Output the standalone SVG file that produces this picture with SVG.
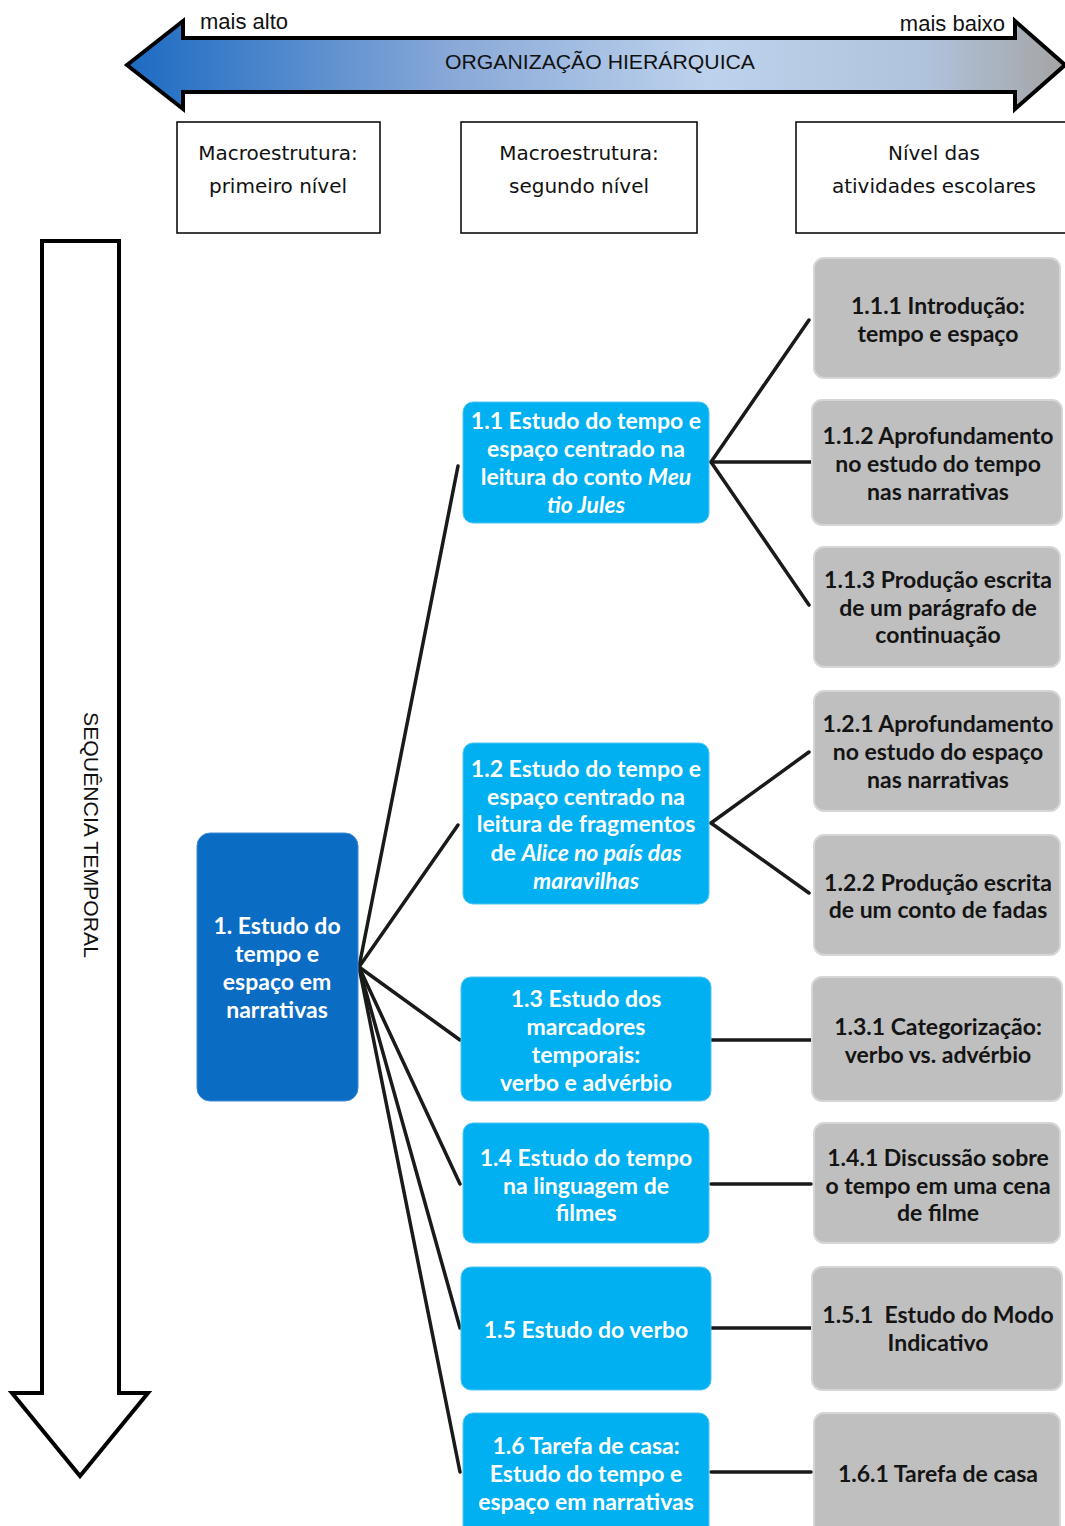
<svg xmlns="http://www.w3.org/2000/svg" width="1065" height="1526" viewBox="0 0 1065 1526">
  <defs>
    <linearGradient id="hierGrad" x1="127" y1="0" x2="1065" y2="0" gradientUnits="userSpaceOnUse">
      <stop offset="0" stop-color="#1c6bc2"/>
      <stop offset="0.35" stop-color="#8aa9d8"/>
      <stop offset="0.62" stop-color="#bdd2ec"/>
      <stop offset="0.85" stop-color="#b0c3dd"/>
      <stop offset="1" stop-color="#a4a4a4"/>
    </linearGradient>
    <style>
      .big-arrow { stroke: #000; stroke-width: 4; stroke-linejoin: miter; }
      .axis-label { font-family: "Liberation Sans", Arial, sans-serif; font-size: 20px; fill: #111; }
      .arrow-note { font-family: "Liberation Sans", Arial, sans-serif; font-size: 22px; fill: #111; }
      .hdr-box { fill: #fff; stroke: #000; stroke-width: 1.5; }
      .hdr-text { font-family: "DejaVu Sans", sans-serif; font-size: 20px; fill: #111; text-anchor: middle; }
      .root { fill: #0b6cc3; stroke: #3d8ad6; stroke-width: 1; }
      .lvl2 { fill: #00b0f0; stroke: #4cc6f3; stroke-width: 1; }
      .lvl3 { fill: #bfbfbf; stroke: #d6d6d6; stroke-width: 2; }
      .t-white { font-family: Lato, "Open Sans", sans-serif; font-weight: bold; font-size: 23px; fill: #fff; text-anchor: middle; dominant-baseline: central; }
      .t-dark { font-family: Lato, "Open Sans", sans-serif; font-weight: bold; font-size: 23px; fill: #141414; text-anchor: middle; dominant-baseline: central; }
      .it { font-style: italic; }
      .link { stroke: #1a1a1a; stroke-width: 3.5; fill: none; stroke-linecap: round; }
    </style>
  </defs>

  <!-- horizontal hierarchy arrow -->
  <g id="hierarchy-arrow">
    <path class="big-arrow" fill="url(#hierGrad)" d="M127,65 L183,21 L183,38 L1015,38 L1015,21 L1065,65 L1015,109 L1015,92 L183,92 L183,109 Z"/>
    <text class="axis-label" x="600" y="69" text-anchor="middle" textLength="310" lengthAdjust="spacingAndGlyphs">ORGANIZAÇÃO HIERÁRQUICA</text>
    <text class="arrow-note" x="200" y="29">mais alto</text>
    <text class="arrow-note" x="1005" y="31" text-anchor="end">mais baixo</text>
  </g>

  <!-- vertical time arrow -->
  <g id="time-arrow">
    <path class="big-arrow" fill="#fff" d="M42,241 L119,241 L119,1393 L148,1393 L80,1476 L12,1393 L42,1393 Z"/>
    <text class="axis-label" transform="translate(84,835) rotate(90)" text-anchor="middle" textLength="246" lengthAdjust="spacingAndGlyphs">SEQUÊNCIA TEMPORAL</text>
  </g>

  <!-- column headers -->
  <g id="header-1">
    <rect class="hdr-box" x="177" y="122" width="203" height="111"/>
    <text class="hdr-text" x="278" y="160">Macroestrutura:</text>
    <text class="hdr-text" x="278" y="193">primeiro nível</text>
  </g>
  <g id="header-2">
    <rect class="hdr-box" x="461" y="122" width="236" height="111"/>
    <text class="hdr-text" x="579" y="160">Macroestrutura:</text>
    <text class="hdr-text" x="579" y="193">segundo nível</text>
  </g>
  <g id="header-3">
    <rect class="hdr-box" x="796" y="122" width="275" height="111"/>
    <text class="hdr-text" x="934" y="160">Nível das</text>
    <text class="hdr-text" x="934" y="193">atividades escolares</text>
  </g>

  <!-- connectors -->
  <g id="connectors">
    <line class="link" x1="359" y1="967" x2="458" y2="466"/>
    <line class="link" x1="359" y1="967" x2="458" y2="825"/>
    <line class="link" x1="359" y1="967" x2="460" y2="1040"/>
    <line class="link" x1="359" y1="967" x2="460" y2="1184"/>
    <line class="link" x1="359" y1="967" x2="460" y2="1328"/>
    <line class="link" x1="359" y1="967" x2="460" y2="1472"/>
    <line class="link" x1="711" y1="462" x2="809" y2="320"/>
    <line class="link" x1="711" y1="462" x2="811" y2="462"/>
    <line class="link" x1="711" y1="462" x2="809" y2="605"/>
    <line class="link" x1="711" y1="823" x2="809" y2="752"/>
    <line class="link" x1="711" y1="823" x2="809" y2="893"/>
    <line class="link" x1="711" y1="1040" x2="811" y2="1040"/>
    <line class="link" x1="711" y1="1184" x2="811" y2="1184"/>
    <line class="link" x1="711" y1="1328" x2="811" y2="1328"/>
    <line class="link" x1="711" y1="1472" x2="811" y2="1472"/>
  </g>

  <!-- first level -->
  <g id="node-1">
    <rect class="root" x="197" y="833" width="161" height="268" rx="13"/>
    <text class="t-white" x="277" y="925">1. Estudo do</text>
    <text class="t-white" x="277" y="953">tempo e</text>
    <text class="t-white" x="277" y="981">espaço em</text>
    <text class="t-white" x="277" y="1009">narrativas</text>
  </g>

  <!-- second level -->
  <g id="node-1-1">
    <rect class="lvl2" x="463" y="402" width="246" height="121" rx="10"/>
    <text class="t-white" x="586" y="420">1.1 Estudo do tempo e</text>
    <text class="t-white" x="586" y="448">espaço centrado na</text>
    <text class="t-white" x="586" y="476">leitura do conto <tspan class="it">Meu</tspan></text>
    <text class="t-white it" x="586" y="504">tio Jules</text>
  </g>
  <g id="node-1-2">
    <rect class="lvl2" x="463" y="743" width="246" height="161" rx="10"/>
    <text class="t-white" x="586" y="768">1.2 Estudo do tempo e</text>
    <text class="t-white" x="586" y="796">espaço centrado na</text>
    <text class="t-white" x="586" y="823">leitura de fragmentos</text>
    <text class="t-white" x="586" y="852">de <tspan class="it">Alice no país das</tspan></text>
    <text class="t-white it" x="586" y="880">maravilhas</text>
  </g>
  <g id="node-1-3">
    <rect class="lvl2" x="461" y="977" width="250" height="124" rx="10"/>
    <text class="t-white" x="586" y="998">1.3 Estudo dos</text>
    <text class="t-white" x="586" y="1026">marcadores</text>
    <text class="t-white" x="586" y="1054">temporais:</text>
    <text class="t-white" x="586" y="1082">verbo e advérbio</text>
  </g>
  <g id="node-1-4">
    <rect class="lvl2" x="463" y="1123" width="246" height="120" rx="10"/>
    <text class="t-white" x="586" y="1157">1.4 Estudo do tempo</text>
    <text class="t-white" x="586" y="1185">na linguagem de</text>
    <text class="t-white" x="586" y="1212">filmes</text>
  </g>
  <g id="node-1-5">
    <rect class="lvl2" x="461" y="1267" width="250" height="123" rx="10"/>
    <text class="t-white" x="586" y="1329">1.5 Estudo do verbo</text>
  </g>
  <g id="node-1-6">
    <rect class="lvl2" x="463" y="1413" width="246" height="125" rx="10"/>
    <text class="t-white" x="586" y="1445">1.6 Tarefa de casa:</text>
    <text class="t-white" x="586" y="1473">Estudo do tempo e</text>
    <text class="t-white" x="586" y="1501">espaço em narrativas</text>
  </g>

  <!-- school activities -->
  <g id="node-1-1-1">
    <rect class="lvl3" x="814" y="258" width="246" height="120" rx="10"/>
    <text class="t-dark" x="938" y="305">1.1.1 Introdução:</text>
    <text class="t-dark" x="938" y="333">tempo e espaço</text>
  </g>
  <g id="node-1-1-2">
    <rect class="lvl3" x="812" y="400" width="250" height="125" rx="10"/>
    <text class="t-dark" x="938" y="435">1.1.2 Aprofundamento</text>
    <text class="t-dark" x="938" y="463">no estudo do tempo</text>
    <text class="t-dark" x="938" y="491">nas narrativas</text>
  </g>
  <g id="node-1-1-3">
    <rect class="lvl3" x="814" y="547" width="246" height="120" rx="10"/>
    <text class="t-dark" x="938" y="579">1.1.3 Produção escrita</text>
    <text class="t-dark" x="938" y="607">de um parágrafo de</text>
    <text class="t-dark" x="938" y="634">continuação</text>
  </g>
  <g id="node-1-2-1">
    <rect class="lvl3" x="814" y="691" width="246" height="120" rx="10"/>
    <text class="t-dark" x="938" y="723">1.2.1 Aprofundamento</text>
    <text class="t-dark" x="938" y="751">no estudo do espaço</text>
    <text class="t-dark" x="938" y="779">nas narrativas</text>
  </g>
  <g id="node-1-2-2">
    <rect class="lvl3" x="814" y="835" width="246" height="120" rx="10"/>
    <text class="t-dark" x="938" y="882">1.2.2 Produção escrita</text>
    <text class="t-dark" x="938" y="909">de um conto de fadas</text>
  </g>
  <g id="node-1-3-1">
    <rect class="lvl3" x="812" y="977" width="250" height="124" rx="10"/>
    <text class="t-dark" x="938" y="1026">1.3.1 Categorização:</text>
    <text class="t-dark" x="938" y="1054">verbo vs. advérbio</text>
  </g>
  <g id="node-1-4-1">
    <rect class="lvl3" x="814" y="1123" width="246" height="120" rx="10"/>
    <text class="t-dark" x="938" y="1157">1.4.1 Discussão sobre</text>
    <text class="t-dark" x="938" y="1185">o tempo em uma cena</text>
    <text class="t-dark" x="938" y="1212">de filme</text>
  </g>
  <g id="node-1-5-1">
    <rect class="lvl3" x="812" y="1267" width="250" height="123" rx="10"/>
    <text class="t-dark" x="938" y="1314" xml:space="preserve">1.5.1  Estudo do Modo</text>
    <text class="t-dark" x="938" y="1342">Indicativo</text>
  </g>
  <g id="node-1-6-1">
    <rect class="lvl3" x="814" y="1413" width="246" height="125" rx="10"/>
    <text class="t-dark" x="938" y="1473">1.6.1 Tarefa de casa</text>
  </g>
</svg>
